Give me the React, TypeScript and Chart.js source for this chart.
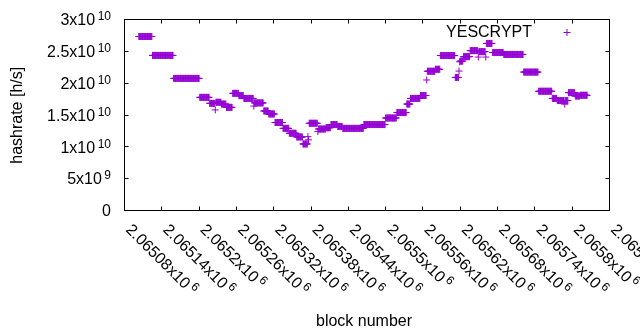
import { useEffect, useRef } from 'react';
import { Chart, registerables } from 'chart.js';

Chart.register(...registerables);

// Run-length data: every block from runStart[i] to runEnd[i] has hashrate runValue[i] (x1e10 h/s)
const runStart = [
  2065103, 2065125, 2065159, 2065201, 2065217, 2065226, 2065227, 2065236, 2065244, 2065254,
  2065264, 2065272, 2065288, 2065289, 2065304, 2065312, 2065322, 2065335, 2065345, 2065357,
  2065367, 2065375, 2065376, 2065377, 2065391, 2065392, 2065404, 2065412, 2065423, 2065431,
  2065465, 2065500, 2065518, 2065534, 2065540, 2065556, 2065566, 2065567, 2065580, 2065588,
  2065612, 2065618, 2065619, 2065620, 2065625, 2065636, 2065649, 2065650, 2065661, 2065662,
  2065672, 2065690, 2065722, 2065746, 2065768, 2065776, 2065788, 2065789, 2065794, 2065805,
  2065813,
];
const runEnd = [
  2065124, 2065158, 2065200, 2065216, 2065225, 2065226, 2065235, 2065243, 2065253, 2065263,
  2065271, 2065287, 2065288, 2065303, 2065311, 2065321, 2065334, 2065344, 2065356, 2065366,
  2065374, 2065375, 2065376, 2065390, 2065391, 2065403, 2065411, 2065422, 2065430, 2065464,
  2065499, 2065517, 2065533, 2065539, 2065555, 2065565, 2065566, 2065579, 2065587, 2065611,
  2065617, 2065618, 2065619, 2065624, 2065635, 2065648, 2065649, 2065660, 2065661, 2065671,
  2065689, 2065721, 2065745, 2065767, 2065775, 2065787, 2065788, 2065793, 2065804, 2065812,
  2065824,
];
const runValue = [
  2.733, 2.436, 2.075, 1.777, 1.683, 1.58, 1.70, 1.672, 1.62, 1.84,
  1.805, 1.76, 1.64, 1.69, 1.563, 1.516, 1.382, 1.29, 1.213, 1.155,
  1.045, 1.16, 1.11, 1.37, 1.24, 1.28, 1.30, 1.35, 1.32, 1.29,
  1.35, 1.453, 1.538, 1.672, 1.76, 1.806, 2.05, 2.187, 2.218, 2.434,
  2.09, 2.19, 2.335, 2.346, 2.417, 2.511, 2.41, 2.495, 2.41, 2.624,
  2.481, 2.451, 2.174, 1.873, 1.76, 1.727, 1.67, 1.727, 1.851, 1.798,
  1.81,
];

const xTickValues = [
  2065080, 2065140, 2065200, 2065260, 2065320, 2065380, 2065440,
  2065500, 2065560, 2065620, 2065680, 2065740, 2065800, 2065860,
];
const xTickLabels = [
  '2.06508x10^6', '2.06514x10^6', '2.0652x10^6', '2.06526x10^6', '2.06532x10^6',
  '2.06538x10^6', '2.06544x10^6', '2.0655x10^6', '2.06556x10^6', '2.06562x10^6',
  '2.06568x10^6', '2.06574x10^6', '2.0658x10^6', '2.06586x10^6',
];
const yTickValues = [0, 5e9, 1e10, 1.5e10, 2e10, 2.5e10, 3e10];
const yTickLabels = ['0', '5x10^9', '1x10^10', '1.5x10^10', '2x10^10', '2.5x10^10', '3x10^10'];

const seriesLabel = 'YESCRYPT';
const xTitle = 'block number';
const yTitle = 'hashrate [h/s]';

const COLOR = '#9400d3';
const FONT = '"Liberation Sans", Arial, sans-serif';
const MAIN = `16px ${FONT}`;
const SUP = `12px ${FONT}`;

function splitLabel(s: string): [string, string] {
  const i = s.indexOf('^');
  return i < 0 ? [s, ''] : [s.slice(0, i), s.slice(i + 1)];
}

function drawCross(ctx: CanvasRenderingContext2D, x: number, y: number, r: number) {
  ctx.beginPath();
  ctx.moveTo(x - r, y);
  ctx.lineTo(x + r, y);
  ctx.moveTo(x, y - r);
  ctx.lineTo(x, y + r);
  ctx.stroke();
}

const overlay = {
  id: 'gnuplotOverlay',
  afterDraw(chart: any) {
    const { ctx, chartArea: a, scales } = chart;
    const xs = scales.x;
    const ys = scales.y;
    ctx.save();
    ctx.strokeStyle = '#000';
    ctx.lineWidth = 1;
    ctx.strokeRect(a.left, a.top, a.right - a.left, a.bottom - a.top);
    ctx.beginPath();
    xTickValues.forEach((v) => {
      const px = Math.round(xs.getPixelForValue(v) - 0.5) + 0.5;
      ctx.moveTo(px, a.bottom);
      ctx.lineTo(px, a.bottom - 4);
      ctx.moveTo(px, a.top);
      ctx.lineTo(px, a.top + 4);
    });
    yTickValues.forEach((v) => {
      const py = Math.round(ys.getPixelForValue(v) - 0.5) + 0.5;
      ctx.moveTo(a.left, py);
      ctx.lineTo(a.left + 4, py);
      ctx.moveTo(a.right, py);
      ctx.lineTo(a.right - 4, py);
    });
    ctx.stroke();

    ctx.fillStyle = '#000';
    ctx.textBaseline = 'alphabetic';
    ctx.textAlign = 'left';
    const gap = 2.5;
    const raise = 5;

    // y tick labels
    yTickValues.forEach((v, i) => {
      const py = ys.getPixelForValue(v);
      const [m, s] = splitLabel(yTickLabels[i]);
      ctx.font = MAIN;
      const mw = ctx.measureText(m).width;
      ctx.font = SUP;
      const sw = s ? ctx.measureText(s).width : 0;
      const right = 111;
      const x0 = right - sw - (s ? gap : 0) - mw;
      ctx.font = MAIN;
      ctx.fillText(m, x0, py + 5.7);
      if (s) {
        ctx.font = SUP;
        ctx.fillText(s, x0 + mw + gap, py + 5.7 - raise);
      }
    });

    // x tick labels, rotated
    xTickValues.forEach((v, i) => {
      const px = xs.getPixelForValue(v);
      const [m, s] = splitLabel(xTickLabels[i]);
      ctx.save();
      ctx.translate(px + 0.5, 230.5);
      ctx.rotate(Math.PI / 4);
      ctx.font = MAIN;
      const mw = ctx.measureText(m).width;
      ctx.fillText(m, 0, 0);
      if (s) {
        ctx.font = SUP;
        ctx.fillText(s, mw + gap, -raise - 1);
      }
      ctx.restore();
    });

    // axis titles
    ctx.font = MAIN;
    ctx.textAlign = 'center';
    ctx.fillText(xTitle, 364, 325.5);
    ctx.save();
    ctx.translate(21.5, 115.3);
    ctx.rotate(-Math.PI / 2);
    ctx.fillText(yTitle, 0, 0);
    ctx.restore();

    // legend
    ctx.textAlign = 'right';
    ctx.fillText(seriesLabel, 532, 37.3);
    ctx.strokeStyle = COLOR;
    drawCross(ctx, 567, 32.5, 3.5);
    ctx.restore();
  },
};

export default function App() {
  const ref = useRef<HTMLCanvasElement | null>(null);
  useEffect(() => {
    if (!ref.current) return;
    const points: { x: number; y: number }[] = [];
    for (let i = 0; i < runStart.length; i++) {
      for (let b = runStart[i]; b <= runEnd[i]; b++) {
        points.push({ x: b, y: runValue[i] * 1e10 });
      }
    }
    const chart = new Chart(ref.current, {
      type: 'scatter',
      data: {
        datasets: [
          {
            label: seriesLabel,
            data: points,
            pointStyle: 'cross',
            pointRadius: 3.5,
            pointHoverRadius: 3.5,
            borderColor: COLOR,
            backgroundColor: COLOR,
            borderWidth: 1,
            showLine: false,
          } as any,
        ],
      },
      options: {
        animation: false,
        responsive: false,
        devicePixelRatio: 1,
        events: [],
        layout: { padding: { left: 124.5, right: 30.5, top: 19.5, bottom: 119.5 } },
        scales: {
          x: { type: 'linear', display: false, min: 2065080, max: 2065860 },
          y: { type: 'linear', display: false, min: 0, max: 3e10 },
        },
        plugins: { legend: { display: false }, tooltip: { enabled: false } },
      },
      plugins: [overlay],
    });
    return () => chart.destroy();
  }, []);
  return (
    <div style={{ position: 'absolute', left: 0, top: 0, width: 640, height: 330, background: '#fff' }}>
      <canvas ref={ref} width={640} height={330} style={{ display: 'block' }} />
    </div>
  );
}
